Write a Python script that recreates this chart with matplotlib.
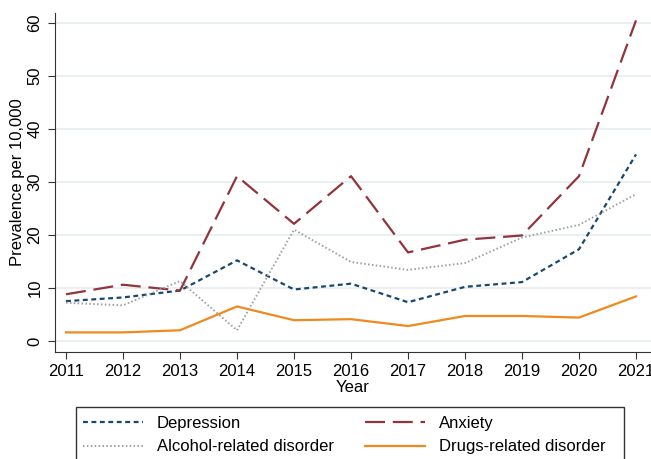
import numpy as np
import matplotlib.pyplot as plt
from matplotlib.patches import Rectangle

years = [2011, 2012, 2013, 2014, 2015, 2016, 2017, 2018, 2019, 2020, 2021]
depression = [7.5, 8.2, 9.5, 15.2, 9.7, 10.8, 7.3, 10.2, 11.1, 17.3, 35.2]
anxiety = [8.8, 10.6, 9.5, 31.1, 22.1, 31.1, 16.7, 19.1, 19.9, 31.1, 60.5]
alcohol = [7.2, 6.7, 11.3, 2.0, 21.0, 14.9, 13.4, 14.7, 19.5, 21.9, 27.7]
drugs = [1.6, 1.6, 2.0, 6.5, 3.9, 4.1, 2.8, 4.7, 4.7, 4.4, 8.4]

plt.rcParams['font.family'] = ['Liberation Sans', 'DejaVu Sans']

W, H = 651, 459
fig = plt.figure(figsize=(W / 100, H / 100), dpi=100)
ax = fig.add_axes([55 / W, 1 - 352 / H, 1 - 55 / W, (352 - 13) / H])

l_dep, = ax.plot(years, depression, color='#1a476f', lw=1.6, dashes=(2.2, 1.6), label='Depression')
l_anx, = ax.plot(years, anxiety, color='#90353b', lw=1.6, dashes=(9, 3.5), label='Anxiety')
l_alc, = ax.plot(years, alcohol, color='#a0a0a0', lw=1.4, dashes=(0.8, 1.2), label='Alcohol-related disorder')
l_drg, = ax.plot(years, drugs, color='#ee8a1e', lw=1.6, label='Drugs-related disorder')

ax.set_xlim(2010.807, 2021.263)
ax.set_ylim(-2.1, 61.9)
ax.set_xticks(years)
ax.set_yticks([0, 10, 20, 30, 40, 50, 60])
ax.tick_params(axis='both', labelsize=12, length=5, color='#333333')
ax.tick_params(axis='y', pad=4)
plt.setp(ax.get_yticklabels(), rotation=90, va='center')
ax.grid(axis='y', color='#e6eef0', lw=1.2)
ax.set_axisbelow(True)
for s in ['top', 'right']:
    ax.spines[s].set_visible(False)
for s in ['left', 'bottom']:
    ax.spines[s].set_color('#333333')
ax.set_xlabel('Year', fontsize=12, labelpad=1)
ax.set_ylabel('Prevalence per 10,000', fontsize=12, labelpad=1.5)

# legend box runs off the bottom of the image, as in the original
fig.patches.append(Rectangle((76 / W, -0.05), (624 - 76) / W, 0.05 + 1 - 407 / H,
                             transform=fig.transFigure, fill=False,
                             edgecolor='#333333', lw=1.0))
fig.legend([l_dep, l_alc, l_anx, l_drg],
           ['Depression', 'Alcohol-related disorder', 'Anxiety', 'Drugs-related disorder'],
           loc='upper left', bbox_to_anchor=(83 / W, 1 - 416 / H), ncol=2, fontsize=12,
           frameon=False, borderpad=0, borderaxespad=0, handlelength=3.6,
           handletextpad=0.84, labelspacing=0.5, columnspacing=1.86)

fig.savefig('out.png', dpi=100)
